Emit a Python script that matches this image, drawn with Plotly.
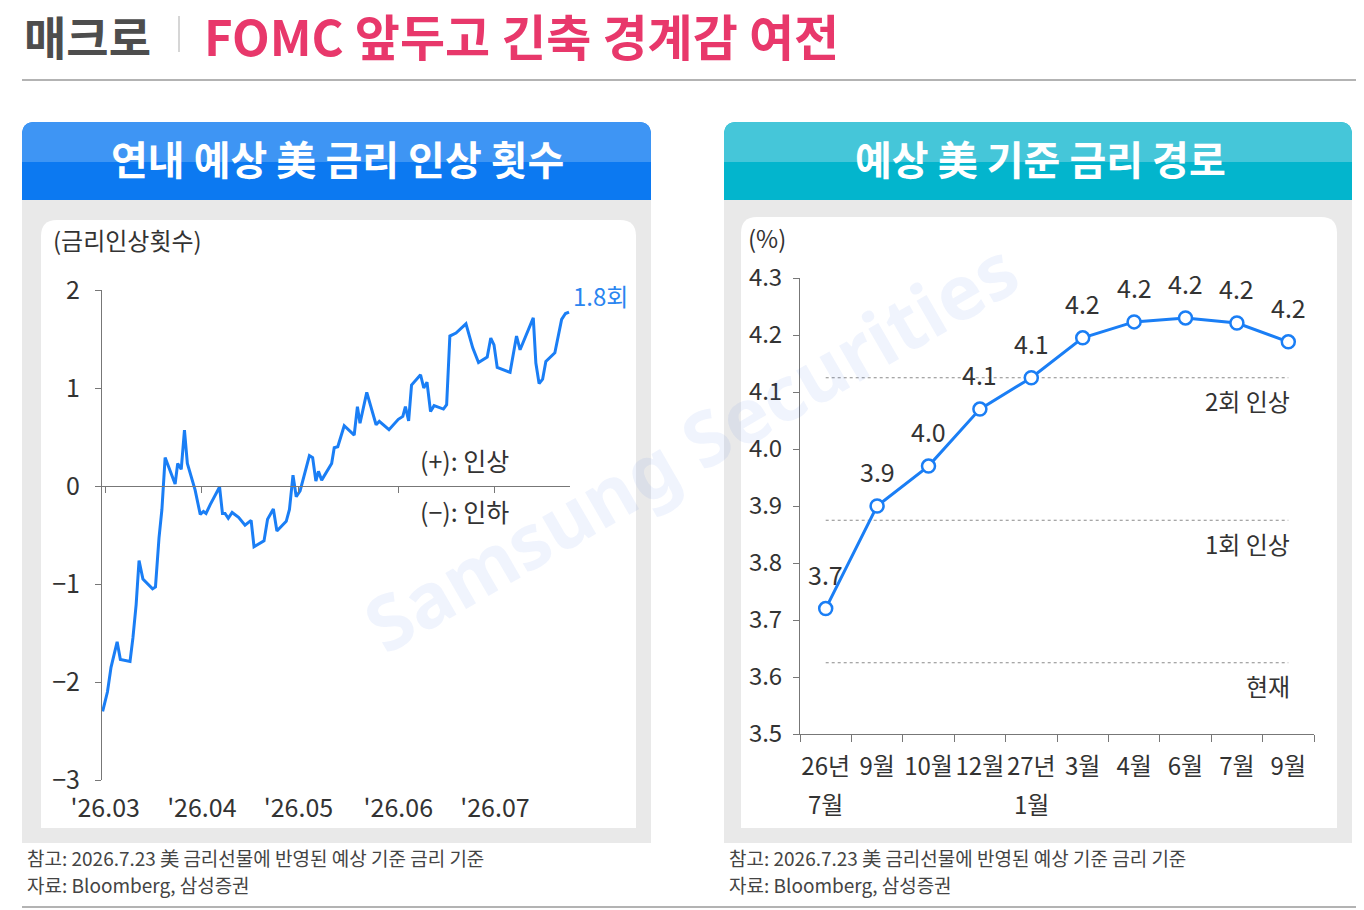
import pandas as pd
import plotly.graph_objects as go

W, H = 1364, 910
FONT = "Noto Sans CJK KR"
BLUE = "#1a7ef5"
TXT = "#333333"

# ---------------------------------------------------------------------------
# data
# ---------------------------------------------------------------------------
# left: 연내 예상 美 금리 인상 횟수, x = days after 2026-03-01
hike_day = [0.2, 1.7, 2.8, 4.7, 5.7, 8.7, 9.6, 10.6, 11.5, 12.7, 15.7, 16.6, 17.7, 18.6, 19.6,
            22.7, 23.5, 24.6, 25.6, 26.5, 28.9, 29.4, 30.5, 31.5, 32.3, 33.6, 36.5, 37.4, 38.2,
            39.2, 40.4, 42.4, 44.4, 46.3, 47.2, 50.3, 51.4, 53.2, 54.3, 57.2, 58.2, 59.3, 60.3,
            61.5, 64.4, 65.4, 66.4, 67.2, 68.2, 71.3, 72.1, 73.2, 75.2, 78.3, 79.3, 80.1, 82.2,
            85.1, 86.1, 89.1, 92.0, 93.4, 94.2, 95.2, 96.1, 98.9, 99.9, 100.9, 102.0, 103.1,
            106.0, 107.0, 108.0, 109.9, 113.0, 115.1, 116.9, 119.6, 120.7, 121.7, 122.7, 126.7,
            128.7, 129.8, 133.9, 134.7, 135.7, 136.8, 137.8, 140.6, 142.7, 143.9, 145.0]
hike_count = [-2.30, -2.10, -1.85, -1.59, -1.77, -1.79, -1.55, -1.21, -0.76, -0.95, -1.05, -1.03, -0.53, -0.24, 0.29,
              0.02, 0.23, 0.17, 0.57, 0.23, -0.04, -0.11, -0.29, -0.26, -0.28, -0.19, -0.01, -0.28, -0.28,
              -0.33, -0.27, -0.32, -0.40, -0.35, -0.62, -0.56, -0.34, -0.235, -0.46, -0.36, -0.24, 0.11, -0.11,
              -0.05, 0.31, 0.29, 0.05, 0.15, 0.06, 0.23, 0.39, 0.40, 0.615, 0.52, 0.81, 0.64, 0.955,
              0.625, 0.66, 0.575, 0.68, 0.71, 0.81, 0.665, 1.03, 1.135, 1.00, 1.06, 0.76, 0.82,
              0.785, 0.83, 1.53, 1.56, 1.655, 1.41, 1.26, 1.315, 1.51, 1.44, 1.21, 1.16,
              1.53, 1.39, 1.715, 1.255, 1.045, 1.09, 1.27, 1.36, 1.70, 1.76, 1.775]
hike_tick_dates = ["2026-03-02", "2026-04-01", "2026-05-01", "2026-06-01", "2026-07-01"]
hike_tick_text = ["'26.03", "'26.04", "'26.05", "'26.06", "'26.07"]

# right: 예상 美 기준 금리 경로
rate_period = ["2026-07", "2026-09", "2026-10", "2026-12", "2027-01",
               "2027-03", "2027-04", "2027-06", "2027-07", "2027-09"]
rate_tick = ["26년", "9월", "10월", "12월", "27년", "3월", "4월", "6월", "7월", "9월"]
rate_tick_sub = ["7월", "", "", "", "1월", "", "", "", "", ""]
rate_expected = [3.72, 3.90, 3.97, 4.07, 4.125, 4.195, 4.223, 4.23, 4.221, 4.188]

ref_level = [4.125, 3.875, 3.625]
ref_label = ["2회 인상", "1회 인상", "현재"]

# ---------------------------------------------------------------------------
# helpers (pixel -> paper)
# ---------------------------------------------------------------------------


def px(x):
    return x / W


def py(y):
    return 1 - y / H


def rounded_path(x0, y0, x1, y1, r, rb=None):
    rb = r if rb is None else rb
    pts = [
        f"M{px(x0)},{py(y0 + r)}",
        f"Q{px(x0)},{py(y0)} {px(x0 + r)},{py(y0)}",
        f"L{px(x1 - r)},{py(y0)}",
        f"Q{px(x1)},{py(y0)} {px(x1)},{py(y0 + r)}",
        f"L{px(x1)},{py(y1 - rb)}",
        f"Q{px(x1)},{py(y1)} {px(x1 - rb)},{py(y1)}",
        f"L{px(x0 + rb)},{py(y1)}",
        f"Q{px(x0)},{py(y1)} {px(x0)},{py(y1 - rb)}",
        "Z",
    ]
    return " ".join(pts)


def text(x, y, s, size, color=TXT, xanchor="left", **kw):
    return dict(x=px(x), y=py(y), xref="paper", yref="paper", text=s, showarrow=False,
                xanchor=xanchor, yanchor="middle", font=dict(family=FONT, size=size, color=color), **kw)


# ---------------------------------------------------------------------------
# figure
# ---------------------------------------------------------------------------
start = pd.Timestamp("2026-03-01")
hike_x = start + pd.to_timedelta(hike_day, unit="D")

fig = go.Figure()
fig.add_trace(go.Scatter(x=hike_x, y=hike_count, mode="lines", xaxis="x", yaxis="y",
                         line=dict(color=BLUE, width=3), showlegend=False, hoverinfo="skip"))

for lvl in ref_level:
    fig.add_trace(go.Scatter(x=[rate_period[0], rate_period[-1]], y=[lvl, lvl], mode="lines",
                             xaxis="x2", yaxis="y2", line=dict(color="#8a8a8a", width=1.2, dash="dot"),
                             showlegend=False, hoverinfo="skip"))

fig.add_trace(go.Scatter(x=rate_period, y=rate_expected, mode="lines+markers", xaxis="x2", yaxis="y2",
                         line=dict(color=BLUE, width=3),
                         marker=dict(size=13, color="white", line=dict(color=BLUE, width=2.5)),
                         showlegend=False, hoverinfo="skip"))

# axes geometry (pixels)
L_X0, L_X1, L_Y0, L_Y1 = 102, 570, 290, 780
R_X0, R_X1, R_Y0, R_Y1 = 800, 1314, 278, 734
y_dom = [py(L_Y1), py(L_Y0)]
zero_pos = y_dom[0] + (0 - (-3)) / 5 * (y_dom[1] - y_dom[0])

tickfont = dict(family=FONT, size=24, color=TXT)
fig.update_layout(
    width=W, height=H, autosize=False,
    margin=dict(l=0, r=0, t=0, b=0, autoexpand=False),
    paper_bgcolor="white", plot_bgcolor="rgba(0,0,0,0)",
    xaxis=dict(domain=[px(L_X0), px(L_X1)], anchor="free", position=zero_pos, type="date",
               range=[start, start + pd.Timedelta(days=145.3)],
               tickvals=hike_tick_dates, ticktext=hike_tick_text, tickangle=0,
               tickfont=dict(family=FONT, size=25, color=TXT),
               showline=True, linecolor="#777", linewidth=1, ticks="outside", ticklen=6, tickcolor="#777",
               showgrid=False, zeroline=False, ticklabelstandoff=294),
    yaxis=dict(domain=y_dom, anchor="x", range=[-3, 2], dtick=1, tickfont=dict(family=FONT, size=25, color=TXT),
               showline=True, linecolor="#777", linewidth=1, ticks="outside", ticklen=6, tickcolor="#777",
               showgrid=False, zeroline=False, ticklabelstandoff=10),
    xaxis2=dict(domain=[px(R_X0), px(R_X1)], anchor="y2", type="category", range=[-0.5, 9.5],
                categoryorder="array", categoryarray=rate_period,
                tickvals=rate_period, ticktext=rate_tick, tickson="boundaries", tickfont=tickfont, tickangle=0,
                showline=True, linecolor="#777", linewidth=1, ticks="outside", ticklen=7, tickcolor="#777",
                showgrid=False, zeroline=False, ticklabelstandoff=11),
    yaxis2=dict(domain=[py(R_Y1), py(R_Y0)], anchor="x2", range=[3.5, 4.3], dtick=0.1, tickformat=".1f",
                tickfont=tickfont, showline=True, linecolor="#777", linewidth=1, ticks="outside", ticklen=6,
                tickcolor="#777", showgrid=False, zeroline=False, ticklabelstandoff=6),
)

# ---------------------------------------------------------------------------
# background boxes
# ---------------------------------------------------------------------------
shapes = []
panels = [(22, 651, "#3e95f4", "#0c79f1"), (724, 1352, "#45c6d9", "#03b5cd")]
for x0, x1, top_c, bot_c in panels:
    shapes.append(dict(type="rect", xref="paper", yref="paper", x0=px(x0), x1=px(x1), y0=py(843), y1=py(199),
                       fillcolor="#e9e9e9", line_width=0, layer="below"))
    shapes.append(dict(type="path", xref="paper", yref="paper", path=rounded_path(x0, 122, x1, 200, 13, 0),
                       fillcolor=bot_c, line_width=0, layer="below"))
    shapes.append(dict(type="path", xref="paper", yref="paper", path=rounded_path(x0, 122, x1, 162, 13, 0),
                       fillcolor=top_c, line_width=0, layer="below"))
shapes.append(dict(type="path", xref="paper", yref="paper", path=rounded_path(41, 220, 636, 828, 16, 0),
                   fillcolor="white", line_width=0, layer="below"))
shapes.append(dict(type="path", xref="paper", yref="paper", path=rounded_path(741, 217, 1337, 828, 16, 0),
                   fillcolor="white", line_width=0, layer="below"))
# title rules
shapes.append(dict(type="line", xref="paper", yref="paper", x0=px(22), x1=px(1356), y0=py(80), y1=py(80),
                   line=dict(color="#9a9a9a", width=1.5)))
shapes.append(dict(type="line", xref="paper", yref="paper", x0=px(22), x1=px(1356), y0=py(907), y1=py(907),
                   line=dict(color="#9a9a9a", width=1.5)))
shapes.append(dict(type="line", xref="paper", yref="paper", x0=px(179), x1=px(179), y0=py(16), y1=py(52),
                   line=dict(color="#c8c8c8", width=1.5)))
fig.update_layout(shapes=shapes)

# ---------------------------------------------------------------------------
# texts
# ---------------------------------------------------------------------------
ann = [
    text(22, 35, "<b>매크로</b>", 46, "#4d4d4d"),
    text(202, 35, "<b>FOMC 앞두고 긴축 경계감 여전</b>", 49, "#e8386b"),
    text(337, 158, "<b>연내 예상 美 금리 인상 횟수</b>", 40, "white", xanchor="center"),
    text(1040, 158, "<b>예상 美 기준 금리 경로</b>", 40, "white", xanchor="center"),
    text(51, 240, "(금리인상횟수)", 24),
    text(746, 238, "(%)", 24),
    text(418, 460, "(+): 인상", 25),
    text(418, 511, "(−): 인하", 25),
]
for x0 in (25, 727):
    ann.append(text(x0, 857, "참고: 2026.7.23 美 금리선물에 반영된 예상 기준 금리 기준", 19, "#444"))
    ann.append(text(x0, 884, "자료: Bloomberg, 삼성증권", 19, "#444"))

# last value label
ann.append(dict(x=hike_x[-1], y=hike_count[-1], xref="x", yref="y", text=f"{hike_count[-1]:.1f}회",
                showarrow=False, xanchor="left", yanchor="middle", xshift=2, yshift=17,
                font=dict(family=FONT, size=24, color="#2a85f0")))

# point labels
for cat, val in zip(rate_period, rate_expected):
    ann.append(dict(x=cat, y=val, xref="x2", yref="y2", text=f"{val:.1f}", showarrow=False,
                    xanchor="center", yanchor="middle", yshift=35, font=dict(family=FONT, size=25, color=TXT)))

# second line of the period ticks
for cat, sub in zip(rate_period, rate_tick_sub):
    if sub:
        ann.append(dict(x=cat, y=3.5, xref="x2", yref="y2", text=sub, showarrow=False,
                        xanchor="center", yanchor="middle", yshift=-69, font=tickfont))

for lvl, lab in zip(ref_level, ref_label):
    ann.append(dict(x=rate_period[-1], y=lvl, xref="x2", yref="y2", text=lab, showarrow=False,
                    xanchor="right", yanchor="middle", xshift=4, yshift=-23,
                    font=dict(family=FONT, size=24, color=TXT)))

# watermark
ann.append(dict(x=px(690), y=py(445), xref="paper", yref="paper", text="<b>Samsung Securities</b>",
                showarrow=False, textangle=-30, font=dict(family="Noto Sans", size=76, color="rgba(40,100,230,0.07)")))

fig.update_layout(annotations=ann)

fig.write_html("out.html", config={"displayModeBar": False},
               post_script="document.body.style.margin='0';")
